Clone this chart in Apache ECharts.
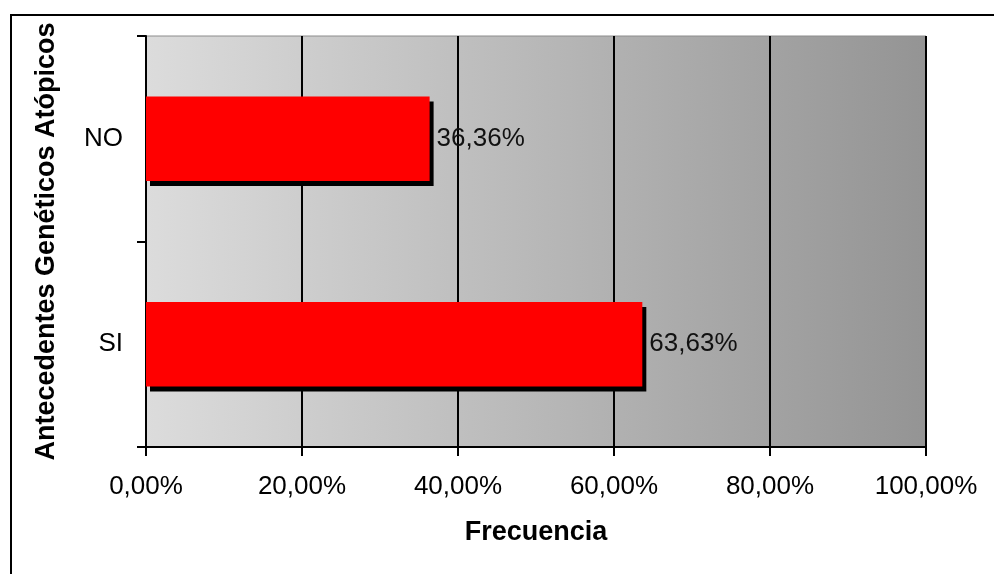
<!DOCTYPE html>
<html>
<head>
<meta charset="utf-8">
<script src="https://cdn.jsdelivr.net/npm/echarts@6/dist/echarts.min.js"></script>
<style>
  html, body { margin: 0; padding: 0; background: #fff; }
  #chart { width: 994px; height: 574px; }
</style>
</head>
<body>
<div id="chart"></div>
<script>
// Categories (bottom to top) and their frequencies in percent
const categories = ['SI', 'NO'];
const frequencies = [63.63, 36.36];

// Horizontal axis range and step (percent)
const xMin = 0;
const xMax = 100;
const xStep = 20;

const FONT = '"Liberation Sans", Arial, sans-serif';
const fmtPct = v => v.toFixed(2).replace('.', ',') + '%';

const chart = echarts.init(document.getElementById('chart'), null, { renderer: 'canvas' });

chart.setOption({
  backgroundColor: '#ffffff',
  animation: false,
  textStyle: { fontFamily: FONT },
  graphic: [{
    type: 'rect',
    silent: true,
    z: -10,
    shape: { x: 11, y: 15, width: 1200, height: 800 },
    style: { fill: 'none', stroke: '#000', lineWidth: 2 }
  }],
  grid: {
    left: 146,
    right: 68,
    top: 36,
    bottom: 127,
    show: true,
    borderColor: '#8c8c8c',
    borderWidth: 1,
    backgroundColor: new echarts.graphic.LinearGradient(0, 0, 1, 0, [
      { offset: 0, color: '#dcdcdc' },
      { offset: 1, color: '#949494' }
    ])
  },
  xAxis: {
    type: 'value',
    min: xMin,
    max: xMax,
    interval: xStep,
    name: 'Frecuencia',
    nameLocation: 'middle',
    nameGap: 72,
    nameTextStyle: { fontSize: 27, fontWeight: 'bold', color: '#000', fontFamily: FONT },
    axisLine: { show: true, lineStyle: { color: '#000', width: 2 } },
    axisTick: { show: true, length: 9, lineStyle: { color: '#000', width: 2 } },
    axisLabel: {
      margin: 27,
      fontSize: 26,
      color: '#000',
      fontFamily: FONT,
      formatter: v => fmtPct(v)
    },
    splitLine: { show: true, lineStyle: { color: '#000', width: 2 } }
  },
  yAxis: {
    type: 'category',
    data: categories,
    name: 'Antecedentes Genéticos Atópicos',
    nameLocation: 'middle',
    nameGap: 86,
    nameRotate: 90,
    nameTextStyle: { fontSize: 27, fontWeight: 'bold', color: '#000', fontFamily: FONT },
    axisLine: { show: true, lineStyle: { color: '#000', width: 2 } },
    axisTick: { show: true, length: 9, lineStyle: { color: '#000', width: 2 } },
    axisLabel: { margin: 23, fontSize: 26, color: '#000', fontFamily: FONT },
    splitLine: { show: false }
  },
  series: [{
    type: 'bar',
    data: frequencies,
    barCategoryGap: '59%',
    itemStyle: {
      color: '#ff0000',
      borderWidth: 0,
      shadowColor: '#000',
      shadowBlur: 0,
      shadowOffsetX: 4,
      shadowOffsetY: 5
    },
    label: {
      show: true,
      position: 'right',
      distance: 7,
      fontSize: 26,
      color: '#111',
      fontFamily: FONT,
      formatter: p => fmtPct(p.value)
    }
  }]
});
</script>
</body>
</html>
